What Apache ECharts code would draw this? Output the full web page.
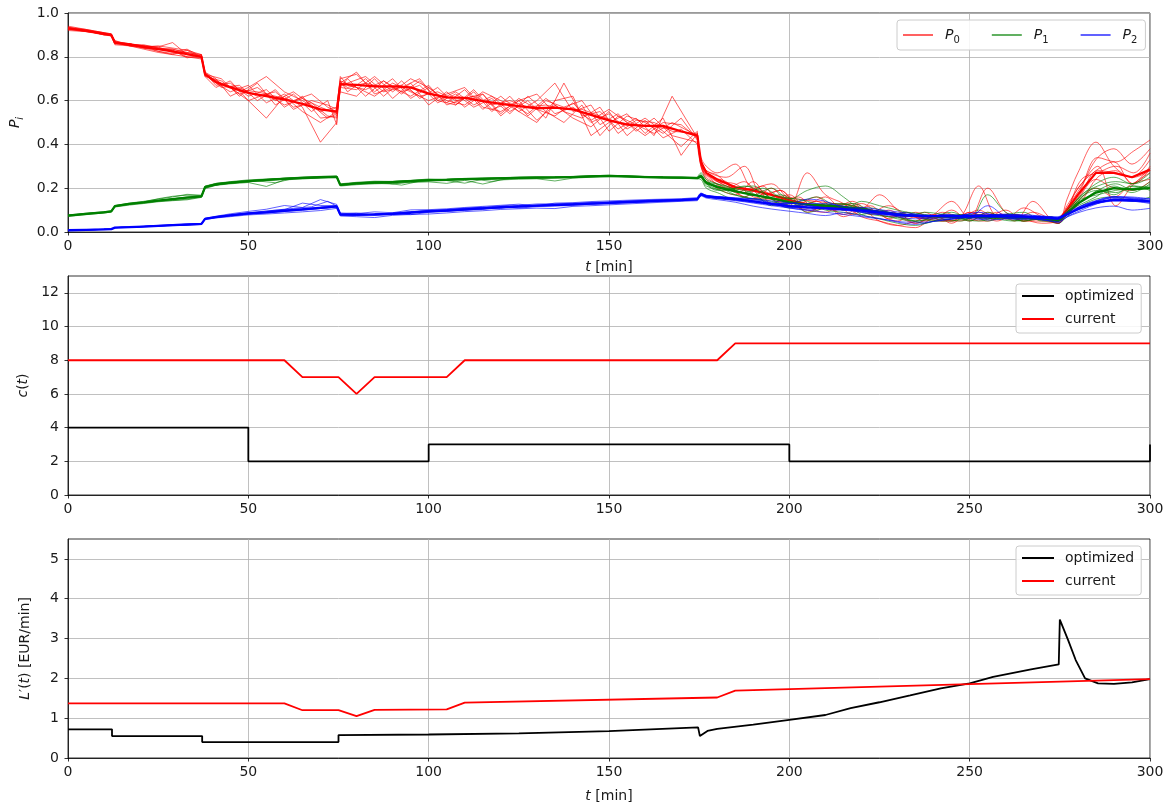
<!DOCTYPE html>
<html><head><meta charset="utf-8">
<script src="https://cdn.jsdelivr.net/npm/echarts@6/dist/echarts.min.js"></script>
<style>html,body{margin:0;padding:0;background:#fff}#c{width:1170px;height:810px}</style>
</head><body><div id="c"></div><script>
// ---------- time grids for the probability ensemble (min) ----------
const T = [0,5,10,12,13,17,21,25,29,33,37,
  38,41,45,50,55,60,65,70,74.5,
  75.5,80,85,90,95,100,105,110,115,120,125,130,135,140,145,150,155,160,165,170,174.5,
  175.5,177,180,185,190,195,200,205,210,215,220,225,230,235,240,245,250,255,260,265,270,274.5,
  277,280,285,290,295,300];
const Tb = [0,5,10,12,13,17,21,25,29,33,37,
  38,42.5,47.5,52.5,57.5,62.5,67.5,72,74.5,
  75.5,77.5,82.5,87.5,92.5,97.5,102.5,107.5,112.5,117.5,122.5,127.5,132.5,137.5,142.5,147.5,152.5,157.5,162.5,167.5,174.5,
  175.5,177,182.5,187.5,192.5,197.5,202.5,207.5,212.5,217.5,222.5,227.5,232.5,237.5,242.5,247.5,252.5,257.5,262.5,267.5,272.5,274.5,
  277,281,285.5,290.5,295.5,300];

// ---------- P0 (red) ----------
const P0_mean = [0.93,0.92,0.905,0.90,0.865,0.855,0.845,0.835,0.825,0.812,0.80,
  0.72,0.685,0.66,0.635,0.62,0.605,0.585,0.56,0.55,
  0.675,0.672,0.665,0.665,0.66,0.632,0.615,0.612,0.598,0.585,0.575,0.565,0.568,0.56,0.535,0.51,0.49,0.485,0.485,0.46,0.44,
  0.32,0.27,0.24,0.205,0.19,0.17,0.145,0.125,0.12,0.11,0.10,0.09,0.078,0.072,0.072,0.07,0.072,0.075,0.072,0.07,0.065,0.052,
  0.10,0.17,0.27,0.27,0.25,0.285];
const P0_runsA = [ // on T
 [0.94,0.925,0.91,0.905,0.87,0.86,0.845,0.85,0.84,0.83,0.81,
  0.73,0.70,0.62,0.66,0.71,0.64,0.60,0.55,0.57,
  0.70,0.72,0.64,0.70,0.61,0.66,0.59,0.65,0.56,0.62,0.55,0.60,0.68,0.55,0.58,0.46,0.53,0.50,0.45,0.52,0.42,
  0.34,0.30,0.27,0.31,0.20,0.22,0.15,0.13,0.16,0.10,0.13,0.08,0.05,0.09,0.06,0.10,0.05,0.09,0.06,0.11,0.07,0.05,
  0.15,0.27,0.41,0.30,0.25,0.33],
 [0.925,0.915,0.90,0.895,0.855,0.85,0.835,0.82,0.81,0.80,0.79,
  0.71,0.66,0.69,0.60,0.52,0.62,0.55,0.50,0.55,
  0.64,0.62,0.70,0.61,0.68,0.58,0.64,0.57,0.63,0.53,0.60,0.51,0.58,0.52,0.48,0.55,0.44,0.51,0.43,0.47,0.40,
  0.30,0.24,0.20,0.17,0.23,0.13,0.16,0.09,0.12,0.07,0.10,0.05,0.03,0.05,0.08,0.04,0.09,0.07,0.10,0.05,0.06,0.04,
  0.08,0.14,0.20,0.16,0.22,0.24],
 [0.93,0.92,0.905,0.90,0.865,0.86,0.85,0.845,0.865,0.81,0.80,
  0.72,0.68,0.64,0.67,0.59,0.63,0.57,0.41,0.50,
  0.68,0.73,0.63,0.66,0.62,0.67,0.58,0.61,0.63,0.54,0.61,0.56,0.53,0.59,0.50,0.54,0.47,0.52,0.46,0.39,0.46,
  0.31,0.25,0.22,0.18,0.15,0.20,0.12,0.27,0.17,0.13,0.07,0.05,0.03,0.02,0.06,0.05,0.09,0.06,0.08,0.05,0.07,0.04,
  0.10,0.20,0.28,0.32,0.22,0.30],
 [0.93,0.92,0.90,0.90,0.875,0.85,0.84,0.825,0.81,0.83,0.795,
  0.725,0.67,0.68,0.62,0.65,0.57,0.62,0.52,0.53,
  0.66,0.65,0.71,0.64,0.70,0.66,0.60,0.58,0.64,0.60,0.55,0.50,0.60,0.62,0.44,0.50,0.54,0.45,0.52,0.35,0.45,
  0.33,0.28,0.26,0.19,0.17,0.15,0.12,0.10,0.09,0.13,0.11,0.17,0.10,0.04,0.08,0.14,0.06,0.05,0.08,0.05,0.05,0.04,
  0.11,0.17,0.33,0.38,0.31,0.38],
 [0.92,0.915,0.905,0.895,0.86,0.855,0.855,0.84,0.83,0.795,0.81,
  0.715,0.69,0.66,0.60,0.63,0.58,0.61,0.57,0.54,
  0.69,0.66,0.62,0.68,0.64,0.60,0.63,0.66,0.57,0.55,0.60,0.63,0.54,0.57,0.51,0.56,0.50,0.44,0.50,0.49,0.43,
  0.33,0.27,0.23,0.22,0.16,0.15,0.17,0.11,0.12,0.08,0.11,0.09,0.07,0.04,0.07,0.05,0.06,0.20,0.09,0.06,0.04,0.05,
  0.09,0.15,0.24,0.20,0.19,0.23]
];
const P0_runsB = [ // on Tb
 [0.935,0.92,0.91,0.90,0.86,0.86,0.84,0.835,0.835,0.815,0.80,
  0.72,0.70,0.62,0.68,0.58,0.63,0.55,0.60,0.49,
  0.69,0.64,0.70,0.62,0.69,0.61,0.66,0.58,0.64,0.55,0.62,0.53,0.60,0.57,0.60,0.49,0.54,0.46,0.52,0.44,0.41,
  0.33,0.28,0.25,0.30,0.17,0.19,0.12,0.14,0.10,0.13,0.08,0.10,0.06,0.09,0.05,0.08,0.06,0.09,0.05,0.14,0.06,0.05,
  0.12,0.22,0.30,0.12,0.22,0.27],
 [0.93,0.92,0.905,0.90,0.865,0.855,0.85,0.845,0.82,0.835,0.80,
  0.73,0.66,0.67,0.60,0.65,0.56,0.60,0.58,0.56,
  0.71,0.67,0.65,0.69,0.63,0.69,0.60,0.64,0.58,0.62,0.55,0.60,0.52,0.68,0.53,0.55,0.47,0.52,0.44,0.62,0.43,
  0.30,0.26,0.20,0.23,0.16,0.19,0.13,0.16,0.11,0.14,0.09,0.12,0.08,0.06,0.09,0.07,0.10,0.06,0.08,0.06,0.07,0.05,
  0.11,0.21,0.34,0.32,0.37,0.42],
 [0.925,0.92,0.90,0.90,0.865,0.85,0.85,0.825,0.815,0.82,0.805,
  0.71,0.69,0.63,0.66,0.60,0.64,0.58,0.52,0.54,
  0.66,0.70,0.62,0.69,0.64,0.67,0.59,0.63,0.57,0.61,0.54,0.62,0.55,0.50,0.58,0.44,0.53,0.49,0.45,0.50,0.44,
  0.32,0.26,0.23,0.16,0.21,0.14,0.16,0.10,0.13,0.08,0.12,0.06,0.09,0.05,0.08,0.06,0.09,0.05,0.08,0.06,0.05,0.04,
  0.08,0.14,0.25,0.28,0.22,0.29],
 [0.93,0.915,0.905,0.895,0.86,0.86,0.84,0.835,0.83,0.80,0.795,
  0.72,0.67,0.66,0.62,0.64,0.57,0.59,0.53,0.52,
  0.67,0.68,0.71,0.64,0.66,0.70,0.60,0.58,0.65,0.56,0.59,0.54,0.61,0.55,0.52,0.57,0.45,0.51,0.50,0.46,0.45,
  0.31,0.27,0.21,0.20,0.19,0.15,0.14,0.12,0.10,0.11,0.09,0.07,0.08,0.06,0.05,0.07,0.21,0.07,0.06,0.09,0.06,0.05,
  0.10,0.24,0.27,0.30,0.27,0.36],
 [0.935,0.925,0.91,0.905,0.87,0.86,0.85,0.84,0.835,0.82,0.81,
  0.72,0.68,0.65,0.64,0.62,0.60,0.63,0.57,0.55,
  0.68,0.66,0.68,0.66,0.67,0.62,0.64,0.60,0.62,0.58,0.60,0.57,0.58,0.56,0.56,0.53,0.50,0.49,0.48,0.47,0.44,
  0.32,0.27,0.21,0.19,0.18,0.16,0.15,0.14,0.13,0.12,0.10,0.09,0.08,0.07,0.07,0.07,0.07,0.08,0.07,0.07,0.06,0.05,
  0.09,0.18,0.28,0.27,0.25,0.28]
];

// ---------- P1 (green) ----------
const P1_mean = [0.075,0.083,0.09,0.094,0.118,0.128,0.135,0.143,0.15,0.157,0.163,
  0.205,0.218,0.225,0.232,0.238,0.243,0.247,0.25,0.252,
  0.215,0.222,0.226,0.228,0.232,0.237,0.238,0.241,0.243,0.245,0.247,0.248,0.249,0.251,0.254,0.256,0.254,0.251,0.249,0.248,0.246,
  0.255,0.225,0.205,0.185,0.17,0.155,0.135,0.125,0.12,0.115,0.105,0.09,0.08,0.075,0.072,0.07,0.068,0.07,0.068,0.066,0.062,0.055,
  0.085,0.13,0.18,0.2,0.195,0.2];
const P1_runsA = [ // on T
 [0.078,0.086,0.093,0.097,0.121,0.132,0.14,0.15,0.16,0.172,0.168,
  0.21,0.222,0.23,0.238,0.242,0.246,0.251,0.254,0.256,
  0.22,0.227,0.232,0.231,0.236,0.242,0.24,0.245,0.247,0.248,0.251,0.252,0.25,0.254,0.257,0.259,0.256,0.254,0.251,0.251,0.25,
  0.27,0.24,0.22,0.19,0.17,0.20,0.15,0.19,0.21,0.16,0.10,0.08,0.06,0.05,0.07,0.09,0.06,0.17,0.09,0.06,0.06,0.05,
  0.10,0.15,0.22,0.25,0.22,0.27],
 [0.071,0.079,0.087,0.091,0.114,0.123,0.13,0.138,0.143,0.147,0.158,
  0.198,0.213,0.22,0.226,0.208,0.238,0.242,0.247,0.249,
  0.21,0.216,0.22,0.222,0.226,0.229,0.222,0.236,0.219,0.238,0.241,0.243,0.233,0.246,0.25,0.253,0.251,0.249,0.246,0.245,0.243,
  0.24,0.20,0.18,0.15,0.17,0.12,0.14,0.09,0.11,0.13,0.08,0.06,0.04,0.03,0.05,0.06,0.08,0.05,0.07,0.05,0.06,0.04,
  0.07,0.11,0.15,0.16,0.14,0.16],
 [0.075,0.083,0.09,0.094,0.118,0.129,0.137,0.152,0.163,0.168,0.166,
  0.208,0.221,0.227,0.234,0.239,0.246,0.249,0.251,0.254,
  0.217,0.224,0.229,0.231,0.235,0.239,0.241,0.243,0.245,0.247,0.249,0.25,0.251,0.253,0.256,0.258,0.256,0.253,0.251,0.25,0.248,
  0.26,0.22,0.19,0.20,0.21,0.15,0.11,0.13,0.10,0.09,0.08,0.10,0.07,0.05,0.06,0.08,0.05,0.09,0.06,0.05,0.07,0.05,
  0.09,0.12,0.16,0.21,0.18,0.22],
 [0.074,0.082,0.09,0.094,0.117,0.127,0.134,0.141,0.144,0.15,0.16,
  0.203,0.216,0.224,0.229,0.235,0.241,0.245,0.248,0.25,
  0.213,0.22,0.223,0.219,0.229,0.234,0.235,0.223,0.241,0.243,0.245,0.246,0.247,0.249,0.252,0.254,0.252,0.25,0.248,0.247,0.245,
  0.25,0.22,0.21,0.17,0.15,0.14,0.12,0.11,0.13,0.10,0.14,0.12,0.10,0.08,0.05,0.05,0.07,0.06,0.08,0.09,0.05,0.05,
  0.08,0.14,0.20,0.17,0.21,0.19]
];
const P1_runsB = [ // on Tb
 [0.076,0.084,0.091,0.095,0.12,0.13,0.135,0.143,0.152,0.158,0.162,
  0.207,0.223,0.231,0.237,0.243,0.247,0.25,0.253,0.254,
  0.217,0.221,0.226,0.229,0.232,0.236,0.239,0.242,0.244,0.246,0.248,0.25,0.251,0.252,0.254,0.257,0.257,0.254,0.252,0.25,0.248,
  0.25,0.23,0.21,0.18,0.20,0.16,0.15,0.13,0.12,0.13,0.10,0.09,0.07,0.09,0.08,0.06,0.05,0.07,0.08,0.06,0.07,0.06,
  0.09,0.14,0.19,0.22,0.19,0.23],
 [0.075,0.083,0.089,0.093,0.118,0.128,0.135,0.143,0.15,0.157,0.163,
  0.204,0.218,0.226,0.233,0.225,0.244,0.247,0.25,0.252,
  0.214,0.217,0.222,0.225,0.214,0.232,0.235,0.238,0.241,0.231,0.244,0.246,0.247,0.249,0.251,0.254,0.254,0.251,0.249,0.247,0.245,
  0.26,0.22,0.18,0.16,0.15,0.17,0.14,0.16,0.12,0.10,0.08,0.07,0.06,0.04,0.06,0.05,0.08,0.06,0.05,0.07,0.06,0.05,
  0.09,0.17,0.21,0.23,0.22,0.25],
 [0.074,0.082,0.089,0.093,0.117,0.127,0.134,0.142,0.149,0.156,0.162,
  0.204,0.219,0.227,0.234,0.239,0.244,0.247,0.25,0.251,
  0.214,0.218,0.223,0.226,0.229,0.233,0.236,0.239,0.241,0.243,0.245,0.247,0.248,0.25,0.252,0.255,0.255,0.252,0.25,0.248,0.246,
  0.25,0.21,0.19,0.21,0.18,0.13,0.12,0.11,0.13,0.12,0.10,0.08,0.09,0.08,0.07,0.08,0.07,0.06,0.07,0.06,0.05,0.05,
  0.08,0.16,0.19,0.18,0.21,0.20],
 [0.076,0.084,0.09,0.095,0.119,0.129,0.136,0.144,0.151,0.16,0.164,
  0.206,0.22,0.229,0.236,0.241,0.246,0.249,0.252,0.253,
  0.216,0.22,0.225,0.228,0.231,0.235,0.238,0.241,0.243,0.245,0.247,0.249,0.25,0.251,0.253,0.256,0.256,0.253,0.251,0.249,0.247,
  0.26,0.23,0.20,0.19,0.16,0.15,0.13,0.12,0.11,0.10,0.11,0.09,0.08,0.07,0.07,0.06,0.07,0.08,0.06,0.06,0.06,0.05,
  0.09,0.15,0.17,0.19,0.20,0.21]
];

// ---------- P2 (blue) ----------
const P2_mean = [0.008,0.01,0.012,0.013,0.02,0.022,0.025,0.028,0.031,0.034,0.037,
  0.06,0.068,0.076,0.085,0.09,0.097,0.103,0.11,0.117,
  0.08,0.079,0.08,0.083,0.088,0.094,0.098,0.103,0.108,0.113,0.116,0.12,0.123,0.126,0.13,0.133,0.137,0.14,0.143,0.146,0.15,
  0.172,0.163,0.158,0.15,0.14,0.128,0.118,0.112,0.108,0.104,0.098,0.088,0.078,0.075,0.073,0.072,0.072,0.073,0.072,0.07,0.066,0.062,
  0.08,0.105,0.135,0.148,0.145,0.14];
const P2_runsA = [ // on T
 [0.008,0.01,0.012,0.013,0.02,0.023,0.026,0.03,0.034,0.037,0.039,
  0.063,0.072,0.083,0.094,0.104,0.121,0.112,0.148,0.126,
  0.087,0.084,0.092,0.088,0.101,0.102,0.106,0.112,0.117,0.122,0.127,0.119,0.132,0.134,0.139,0.142,0.145,0.148,0.15,0.152,0.157,
  0.178,0.167,0.162,0.152,0.142,0.131,0.13,0.15,0.14,0.11,0.09,0.08,0.07,0.06,0.07,0.08,0.07,0.12,0.07,0.06,0.06,0.06,
  0.08,0.11,0.14,0.155,0.155,0.15],
 [0.007,0.009,0.011,0.012,0.019,0.021,0.024,0.027,0.029,0.031,0.034,
  0.057,0.064,0.07,0.078,0.082,0.087,0.092,0.098,0.108,
  0.073,0.07,0.066,0.076,0.08,0.082,0.087,0.093,0.097,0.103,0.106,0.109,0.107,0.117,0.12,0.124,0.128,0.132,0.136,0.14,0.143,
  0.165,0.155,0.148,0.136,0.118,0.105,0.095,0.085,0.075,0.088,0.075,0.062,0.045,0.035,0.048,0.058,0.068,0.055,0.06,0.068,0.055,0.048,
  0.068,0.088,0.11,0.118,0.10,0.108],
 [0.008,0.01,0.012,0.013,0.02,0.022,0.025,0.028,0.031,0.036,0.038,
  0.061,0.069,0.079,0.088,0.096,0.102,0.132,0.121,0.119,
  0.083,0.087,0.077,0.081,0.092,0.099,0.102,0.109,0.113,0.108,0.122,0.128,0.129,0.131,0.135,0.138,0.141,0.144,0.147,0.15,0.153,
  0.176,0.168,0.16,0.156,0.152,0.142,0.133,0.122,0.112,0.102,0.112,0.102,0.092,0.082,0.072,0.07,0.082,0.072,0.082,0.072,0.07,0.062,
  0.082,0.102,0.142,0.162,0.16,0.152],
 [0.008,0.01,0.012,0.013,0.02,0.022,0.025,0.028,0.031,0.034,0.037,
  0.06,0.067,0.075,0.082,0.087,0.094,0.099,0.107,0.114,
  0.078,0.075,0.082,0.083,0.079,0.09,0.094,0.099,0.103,0.114,0.109,0.116,0.119,0.121,0.127,0.129,0.133,0.137,0.14,0.143,0.147,
  0.17,0.16,0.155,0.15,0.152,0.13,0.11,0.10,0.112,0.10,0.09,0.08,0.082,0.07,0.06,0.06,0.07,0.082,0.07,0.08,0.07,0.06,
  0.08,0.10,0.13,0.14,0.14,0.13]
];
const P2_runsB = [ // on Tb
 [0.009,0.011,0.013,0.014,0.021,0.023,0.026,0.029,0.032,0.036,0.038,
  0.061,0.074,0.081,0.089,0.097,0.104,0.11,0.118,0.12,
  0.08,0.081,0.081,0.084,0.089,0.094,0.098,0.102,0.108,0.113,0.117,0.12,0.123,0.126,0.13,0.133,0.137,0.14,0.143,0.146,0.151,
  0.17,0.16,0.15,0.146,0.135,0.125,0.12,0.115,0.10,0.10,0.10,0.09,0.08,0.07,0.08,0.07,0.07,0.08,0.08,0.07,0.07,0.07,
  0.09,0.12,0.14,0.16,0.15,0.14],
 [0.008,0.01,0.012,0.013,0.02,0.022,0.025,0.028,0.031,0.033,0.036,
  0.059,0.07,0.078,0.086,0.094,0.1,0.108,0.112,0.116,
  0.079,0.078,0.079,0.08,0.084,0.09,0.094,0.098,0.103,0.109,0.113,0.119,0.122,0.123,0.127,0.129,0.134,0.137,0.14,0.143,0.149,
  0.17,0.16,0.148,0.138,0.126,0.115,0.105,0.095,0.085,0.075,0.065,0.055,0.045,0.045,0.055,0.065,0.058,0.068,0.058,0.06,0.05,0.042,
  0.07,0.10,0.13,0.15,0.15,0.14],
 [0.008,0.01,0.012,0.013,0.02,0.022,0.025,0.028,0.03,0.033,0.036,
  0.06,0.071,0.082,0.09,0.1,0.108,0.115,0.14,0.118,
  0.082,0.08,0.078,0.083,0.09,0.095,0.1,0.105,0.11,0.116,0.122,0.12,0.125,0.128,0.131,0.134,0.138,0.142,0.146,0.147,0.152,
  0.174,0.165,0.16,0.15,0.142,0.13,0.13,0.13,0.125,0.11,0.10,0.09,0.08,0.075,0.07,0.075,0.09,0.075,0.07,0.075,0.07,0.065,
  0.08,0.12,0.145,0.16,0.155,0.145],
 [0.008,0.01,0.012,0.013,0.02,0.022,0.025,0.028,0.031,0.034,0.037,
  0.06,0.072,0.079,0.086,0.093,0.099,0.105,0.11,0.115,
  0.078,0.077,0.078,0.08,0.084,0.09,0.095,0.099,0.104,0.109,0.114,0.117,0.12,0.123,0.127,0.13,0.134,0.137,0.14,0.143,0.148,
  0.17,0.16,0.15,0.14,0.13,0.12,0.11,0.11,0.11,0.10,0.09,0.08,0.07,0.075,0.07,0.07,0.075,0.07,0.07,0.065,0.06,0.058,
  0.078,0.11,0.13,0.145,0.14,0.135]
];

// ---------- c(t): number of active units ----------
const cCur_t = [0,60,65,75,80,85,105,110,180,185,300];
const cCur_v = [8,8,7,7,6,7,7,8,8,9,9];
const cOpt_t = [0,50,100,200,300];
const cOpt_v = [4,2,3,2,3];

// ---------- L'(t) [EUR/min] ----------
const lCur_t = [0,60,65,75,80,85,105,110,180,185,300];
const lCur_v = [1.37,1.37,1.2,1.2,1.05,1.21,1.22,1.39,1.52,1.69,1.98];
const lOpt_t = [0,12.2,12.2,37.2,37.2,75,75,100,125,150,174.7,175.2,177.3,180,190,200,210,217,225,233.5,242,250,256.5,267,274.7,275,277.3,279.4,282,285.6,290,295,300];
const lOpt_v = [0.72,0.72,0.55,0.55,0.40,0.40,0.575,0.59,0.62,0.675,0.77,0.55,0.68,0.73,0.84,0.96,1.08,1.25,1.40,1.57,1.75,1.875,2.04,2.225,2.35,3.475,2.96,2.46,2.0,1.875,1.86,1.9,1.98];

const xTicks = [0,50,100,150,200,250,300];

// ---------------------------------------------------------------
const F = 'DejaVu Sans';
const TXT = '#1a1a1a';
const zip = (ts, vs) => ts.map((t, i) => [t, vs[i]]);
const SPLIT = 40; // index of t = 174.5: runs are drawn smooth after the switch-off at 175 min

const richMath = {
  i: {fontStyle: 'italic', fontFamily: F, fontSize: 14, color: TXT, lineHeight: 20},
  n: {fontFamily: F, fontSize: 14, color: TXT, lineHeight: 20},
  s: {fontStyle: 'italic', fontFamily: F, fontSize: 10, color: TXT, lineHeight: 10, padding: [10, 0, 0, 0]},
  d: {fontFamily: F, fontSize: 10, color: TXT, lineHeight: 10, padding: [10, 0, 0, 0]}
};

function xAxis(gi, named, gap) {
  return {
    type: 'value', gridIndex: gi, min: 0, max: 300, interval: 50,
    axisLine: {show: true, onZero: false, lineStyle: {color: '#000', width: 0.8}},
    axisTick: {show: true, length: 3.5, lineStyle: {color: '#000', width: 0.8}},
    axisLabel: {color: TXT, fontSize: 14, fontFamily: F, margin: 7, customValues: xTicks},
    splitLine: {show: true, lineStyle: {color: '#b0b0b0', width: 0.8}},
    name: named ? '{i|t}{n| [min]}' : '',
    nameLocation: 'middle', nameGap: gap,
    nameTextStyle: {fontFamily: F, fontSize: 14, color: TXT, rich: richMath}
  };
}
function yAxis(gi, max, interval, ticks, fmt, name, gap) {
  return {
    type: 'value', gridIndex: gi, min: 0, max: max, interval: interval,
    axisLine: {show: true, onZero: false, lineStyle: {color: '#000', width: 0.8}},
    axisTick: {show: true, length: 3.5, lineStyle: {color: '#000', width: 0.8}, customValues: ticks},
    axisLabel: {color: TXT, fontSize: 14, fontFamily: F, margin: 9, customValues: ticks, formatter: fmt},
    splitLine: {show: true, lineStyle: {color: '#b0b0b0', width: 0.8}},
    name: name, nameLocation: 'middle', nameGap: gap,
    nameTextStyle: {fontFamily: F, fontSize: 14, color: TXT, rich: richMath}
  };
}

const colors = {P0: '#ff0000', P1: '#008000', P2: '#0000ff'};
const series = [];
function pushRun(nm, ts, r) {
  const pts = zip(ts, r);
  const base = {
    name: nm, type: 'line', xAxisIndex: 0, yAxisIndex: 0, symbol: 'none', silent: true,
    lineStyle: {color: colors[nm], width: 1.0, opacity: 0.62}, itemStyle: {color: colors[nm]}
  };
  series.push(Object.assign({}, base, {data: pts.slice(0, SPLIT + 1)}));
  series.push(Object.assign({}, base, {data: pts.slice(SPLIT), smooth: 0.35}));
}
[['P0', P0_runsA, P0_runsB, P0_mean], ['P1', P1_runsA, P1_runsB, P1_mean], ['P2', P2_runsA, P2_runsB, P2_mean]].forEach(([nm, ra, rb, mean]) => {
  ra.forEach(r => pushRun(nm, T, r));
  rb.forEach(r => pushRun(nm, Tb, r));
  series.push({
    name: nm + ' mean', type: 'line', xAxisIndex: 0, yAxisIndex: 0, data: zip(T, mean),
    symbol: 'none', silent: true,
    lineStyle: {color: colors[nm], width: 2.3}, itemStyle: {color: colors[nm]}
  });
});
series.push({name: 'optimized', type: 'line', xAxisIndex: 1, yAxisIndex: 1, data: zip(cOpt_t, cOpt_v), step: 'end',
  symbol: 'none', lineStyle: {color: '#000', width: 1.8}, itemStyle: {color: '#000'}});
series.push({name: 'current', type: 'line', xAxisIndex: 1, yAxisIndex: 1, data: zip(cCur_t, cCur_v),
  symbol: 'none', lineStyle: {color: '#ff0000', width: 1.8}, itemStyle: {color: '#ff0000'}});
series.push({name: 'optimized', type: 'line', xAxisIndex: 2, yAxisIndex: 2, data: zip(lOpt_t, lOpt_v),
  symbol: 'none', lineStyle: {color: '#000', width: 1.8}, itemStyle: {color: '#000'}});
series.push({name: 'current', type: 'line', xAxisIndex: 2, yAxisIndex: 2, data: zip(lCur_t, lCur_v),
  symbol: 'none', lineStyle: {color: '#ff0000', width: 1.8}, itemStyle: {color: '#ff0000'}});

const legendBox = {borderColor: '#cccccc', borderWidth: 1, borderRadius: 3, backgroundColor: 'rgba(255,255,255,0.85)',
  itemStyle: {opacity: 0}};

const gridBase = {left: 68, right: 20, height: 219, show: true, borderColor: '#000', borderWidth: 0.8, outerBoundsMode: 'none', containLabel: false};
const option = {
  animation: false,
  backgroundColor: '#fff',
  grid: [
    Object.assign({top: 13}, gridBase),
    Object.assign({top: 276}, gridBase),
    Object.assign({top: 539}, gridBase)
  ],
  xAxis: [xAxis(0, true, 25), xAxis(1, false, 25), xAxis(2, true, 28)],
  yAxis: [
    yAxis(0, 1, 0.2, [0, 0.2, 0.4, 0.6, 0.8, 1.0], v => v.toFixed(1), '{i|P}{s|i}', 42),
    yAxis(1, 13, 2, [0, 2, 4, 6, 8, 10, 12], v => String(v), '{i|c}{n|(}{i|t}{n|)}', 33),
    yAxis(2, 5.5, 1, [0, 1, 2, 3, 4, 5], v => String(v), '{i|L}{n|′(}{i|t}{n|) [EUR/min]}', 33)
  ],
  legend: [
    Object.assign({
      data: ['P0', 'P1', 'P2'], left: 897, top: 20, orient: 'horizontal',
      padding: [5, 8, 5, 5], itemWidth: 30, itemHeight: 14, itemGap: 31,
      formatter: n => '{i|P}{d|' + n.slice(1) + '}',
      textStyle: {fontFamily: F, fontSize: 14, color: TXT, padding: [0, 0, 0, 7], rich: richMath}
    }, legendBox),
    Object.assign({
      data: ['optimized', 'current'], left: 1016, top: 284, orient: 'vertical',
      padding: [4, 7, 6, 5], itemWidth: 32, itemHeight: 16, itemGap: 7,
      textStyle: {fontFamily: F, fontSize: 14, color: TXT, lineHeight: 16, padding: [0, 0, 0, 6]}
    }, legendBox),
    Object.assign({
      data: ['optimized', 'current'], left: 1016, top: 546, orient: 'vertical',
      padding: [4, 7, 6, 5], itemWidth: 32, itemHeight: 16, itemGap: 7,
      textStyle: {fontFamily: F, fontSize: 14, color: TXT, lineHeight: 16, padding: [0, 0, 0, 6]}
    }, legendBox)
  ],
  series: series
};

const chart = echarts.init(document.getElementById('c'), null, {renderer: 'canvas'});
chart.setOption(option);
</script></body></html>
